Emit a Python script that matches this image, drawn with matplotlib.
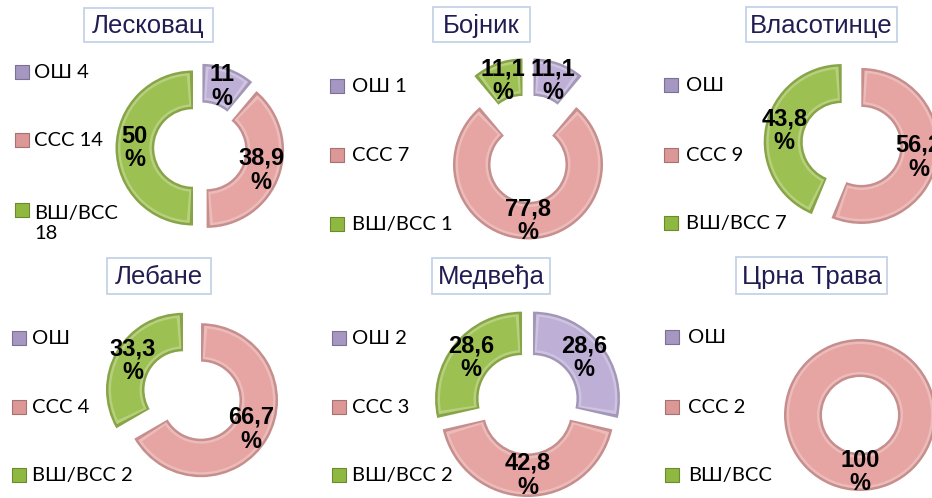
import matplotlib
matplotlib.use("Agg")
import matplotlib.pyplot as plt
from matplotlib.patches import Wedge, Rectangle
import matplotlib.colors as mcolors
import numpy as np

# ---------------- data ----------------
categories = ["ОШ", "ССС", "ВШ/ВСС"]
municipalities = ["Лесковац", "Бојник", "Власотинце", "Лебане", "Медвеђа", "Црна Трава"]

leskovac = [4, 14, 18]
bojnik = [1, 7, 1]
vlasotince = [0, 9, 7]
lebane = [0, 4, 2]
medvedja = [2, 3, 2]
crna_trava = [0, 2, 0]

leskovac_pct = ["11", "38,9", "50"]
bojnik_pct = ["11,1", "77,8", "11,1"]
vlasotince_pct = ["", "56,2", "43,8"]
lebane_pct = ["", "66,7", "33,3"]
medvedja_pct = ["28,6", "42,8", "28,6"]
crna_trava_pct = ["", "100", ""]

counts = [leskovac, bojnik, vlasotince, lebane, medvedja, crna_trava]
pct_labels = [leskovac_pct, bojnik_pct, vlasotince_pct, lebane_pct, medvedja_pct, crna_trava_pct]

# ---------------- style / layout ----------------
W, H = 932, 498
face_colors = ["#bdafd6", "#e6a5a3", "#9dc052"]
legend_colors = ["#a596c2", "#dc9896", "#8fb840"]

def darker(c, f):
    r, g, b = mcolors.to_rgb(c)
    return (r * f, g * f, b * f)

def lighter(c, f):
    r, g, b = mcolors.to_rgb(c)
    return (r + (1 - r) * f, g + (1 - g) * f, b + (1 - b) * f)

# per panel: title box (x0,y0,x1,y1), legend marker x, legend text x, legend rows y,
# donut centre, outer radius, explode distance (px), wrap legend
layout = [
    dict(box=(84, 8, 213, 42), mx=21.5, tx=34, rows=(72, 140, 210), c=(200, 148), R=77.5, ex=7, wrap=True),
    dict(box=(433, 7, 530, 42), mx=336.5, tx=352, rows=(86, 155, 224), c=(528, 148.5), R=75, ex=16, wrap=False),
    dict(box=(746, 7, 897, 42), mx=670.5, tx=686, rows=(85, 155, 223), c=(851.5, 144), R=78, ex=10, wrap=False),
    dict(box=(107, 258, 211, 294), mx=19, tx=32, rows=(338, 407, 475), c=(192, 395), R=77, ex=10.4, wrap=False),
    dict(box=(432, 258, 550, 294), mx=338.5, tx=352, rows=(338, 407, 475), c=(527.5, 403), R=87, ex=7, wrap=False),
    dict(box=(736, 257, 887, 294), mx=672, tx=688, rows=(337, 407, 475), c=(860, 415), R=76, ex=0.0, wrap=False),
]

fig = plt.figure(figsize=(W / 100, H / 100), dpi=100)
ax = fig.add_axes([0, 0, 1, 1])

def Y(y):
    return H - y

for k, (name, vals, pl, L) in enumerate(zip(municipalities, counts, pct_labels, layout)):
    idx = [i for i, v in enumerate(vals) if v > 0]
    R = L["R"]
    cx, cy = L["c"]
    wedges, _ = ax.pie([vals[i] for i in idx], center=(cx, Y(cy)), radius=R,
                       explode=[L["ex"]] * len(idx), startangle=90, counterclock=False,
                       colors=[darker(face_colors[i], 0.86) for i in idx],
                       wedgeprops=dict(width=R * 0.5, edgecolor="none", linewidth=0))
    for w, i in zip(wedges, idx):
        wc = w.center
        r_out, width = w.r, w.width
        t1, t2 = w.theta1, w.theta2
        rmid = r_out - width / 2
        # bevel: lighter inner face inset
        for inset, col in [(2.5, lighter(face_colors[i], 0.25)), (5.0, face_colors[i])]:
            if t2 - t1 >= 359.9:
                a1, a2 = t1, t2
            else:
                da = np.degrees(inset / rmid)
                a1, a2 = t1 + da, t2 - da
            ax.add_patch(Wedge(wc, r_out - inset, a1, a2, width=width - 2 * inset,
                               fc=col, ec="none", zorder=2))
        tm = np.radians((t1 + t2) / 2)
        ax.text(wc[0] + rmid * np.cos(tm), wc[1] + rmid * np.sin(tm), pl[i] + "\n%",
                ha="center", va="center", fontsize=17, fontweight="bold",
                family="Liberation Sans", color="black", linespacing=1.05, zorder=5)

    # title box
    x0, y0, x1, y1 = L["box"]
    ax.add_patch(Rectangle((x0, Y(y1)), x1 - x0, y1 - y0, fc="white", ec="#c5d3e6", lw=1.3, zorder=3))
    ax.text((x0 + x1) / 2, Y((y0 + y1) / 2) - 1, name, ha="center", va="center",
            fontsize=18.5, family="Liberation Sans", color="#211c52", zorder=4)

    # legend
    for i, cat in enumerate(categories):
        lab = f"{cat} {vals[i]}" if vals[i] > 0 else cat
        ry = L["rows"][i]
        nlines = 1
        if L["wrap"] and i == 2:
            lab = lab.replace(" ", "\n")
            nlines = 2
        ax.scatter([L["mx"]], [Y(ry)], marker="s", s=95, color=legend_colors[i],
                   edgecolors=darker(legend_colors[i], 0.75), linewidths=0.8, zorder=4)
        ax.text(L["tx"], Y(ry) - (nlines - 1) * 13.5, lab, ha="left", va="center",
                fontsize=14.5, family="Lato", color="black", linespacing=1.25, zorder=4)

ax.set_xlim(0, W)
ax.set_ylim(0, H)
ax.set_aspect("auto")
ax.axis("off")
fig.savefig("out.png", dpi=100, facecolor="white")
